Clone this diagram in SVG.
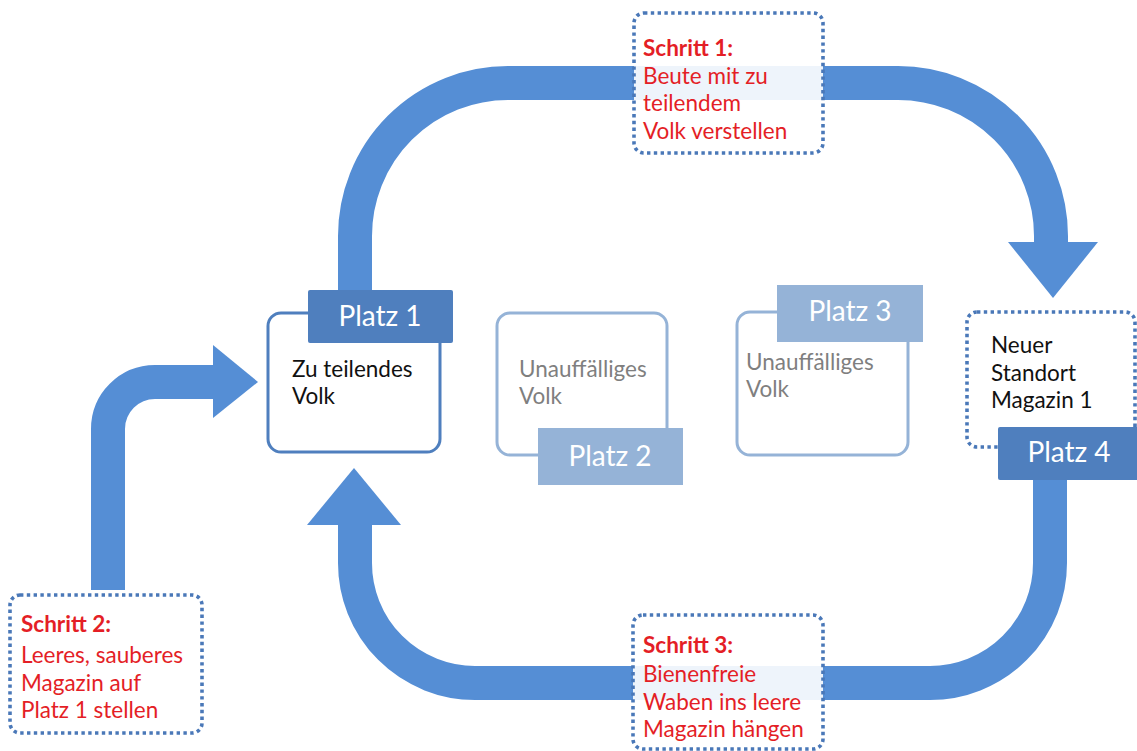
<svg xmlns="http://www.w3.org/2000/svg" width="1137" height="751" viewBox="0 0 1137 751">
<style>
  .band{fill:none;stroke:#558ed5;stroke-width:34}
  .head{fill:#558ed5}
  .dark{fill:#4f7fbe}
  .light{fill:#95b3d7}
  .outD{fill:#fff;stroke:#4f7fbe;stroke-width:3}
  .outL{fill:#fff;stroke:#95b3d7;stroke-width:3}
  .dot{fill:#fff;fill-opacity:0.9;stroke:#4a78b8;stroke-width:3.6;stroke-dasharray:3.4 3.4}
  text{font-family:Lato,"Open Sans","Liberation Sans",sans-serif;font-size:22.5px}
  .ph{fill:#fff;font-size:28px;text-anchor:middle}
  .blk{fill:#111}
  .gry{fill:#7f7f7f}
  .red{fill:#e41e26}
  .b{font-weight:bold}
</style>
<g id="connectors">
  <path class="band" d="M355,300 V236 A153,153 0 0 1 508,83 H898 A153,153 0 0 1 1051,236 V244"/>
  <polygon class="head" points="1008,242 1098,242 1053,298"/>
  <path class="band" d="M1050,478 V563 A120,120 0 0 1 930,683 H475 A120,120 0 0 1 355,563 V523"/>
  <polygon class="head" points="307,525 401,525 354,468"/>
  <path class="band" stroke-width="32" d="M108,590 V429 A47,47 0 0 1 155,382 H215"/>
  <polygon class="head" points="213,345 213,418 258,382"/>
</g>
<g id="platz1">
  <rect class="outD" x="268" y="313" width="172" height="139" rx="13"/>
  <rect class="dark" x="308" y="290" width="145" height="53" rx="2"/>
  <text class="ph" x="380" y="326">Platz 1</text>
  <text class="blk" x="292" y="377">Zu teilendes</text>
  <text class="blk" x="292" y="404">Volk</text>
</g>
<g id="platz2">
  <rect class="outL" x="497" y="313" width="170" height="142" rx="13"/>
  <rect class="light" x="538" y="428" width="145" height="57"/>
  <text class="ph" x="610" y="466">Platz 2</text>
  <text class="gry" x="519" y="377">Unauffälliges</text>
  <text class="gry" x="519" y="404">Volk</text>
</g>
<g id="platz3">
  <rect class="outL" x="737" y="312" width="171" height="143" rx="13"/>
  <rect class="light" x="777" y="285" width="146" height="57"/>
  <text class="ph" x="850" y="321">Platz 3</text>
  <text class="gry" x="746" y="370">Unauffälliges</text>
  <text class="gry" x="746" y="397">Volk</text>
</g>
<g id="platz4">
  <rect class="dot" x="967" y="312" width="168" height="135" rx="10"/>
  <rect class="dark" x="998" y="427" width="145" height="53" rx="2"/>
  <text class="ph" x="1069" y="462">Platz 4</text>
  <text class="blk" x="991" y="353">Neuer</text>
  <text class="blk" x="991" y="381">Standort</text>
  <text class="blk" x="991" y="408">Magazin 1</text>
</g>
<g id="schritt1">
  <rect class="dot" x="634" y="13" width="189" height="140" rx="10"/>
  <text class="red b" x="643" y="56">Schritt 1:</text>
  <text class="red" x="643" y="84">Beute mit zu</text>
  <text class="red" x="643" y="111">teilendem</text>
  <text class="red" x="643" y="139">Volk verstellen</text>
</g>
<g id="schritt2">
  <rect class="dot" x="10" y="595" width="192" height="138" rx="10"/>
  <text class="red b" x="21" y="632">Schritt 2:</text>
  <text class="red" x="21" y="663">Leeres, sauberes</text>
  <text class="red" x="21" y="691">Magazin auf</text>
  <text class="red" x="21" y="718">Platz 1 stellen</text>
</g>
<g id="schritt3">
  <rect class="dot" x="633" y="615" width="190" height="134" rx="10"/>
  <text class="red b" x="643" y="653">Schritt 3:</text>
  <text class="red" x="643" y="682">Bienenfreie</text>
  <text class="red" x="643" y="710">Waben ins leere</text>
  <text class="red" x="643" y="737">Magazin hängen</text>
</g>
</svg>
